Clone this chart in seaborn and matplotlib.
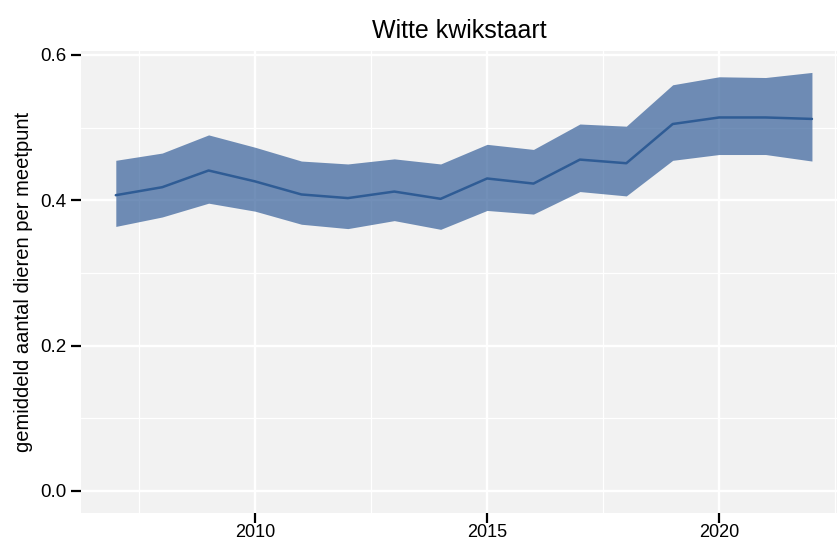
import numpy as np
import pandas as pd
import seaborn as sns
import matplotlib.pyplot as plt
from matplotlib.ticker import MultipleLocator

# yearly mean count per point with confidence band
jaren = [2007, 2008, 2009, 2010, 2011, 2012, 2013, 2014,
         2015, 2016, 2017, 2018, 2019, 2020, 2021, 2022]
gemiddeld = [0.407, 0.418, 0.441, 0.426, 0.408, 0.403, 0.412, 0.402,
             0.430, 0.423, 0.456, 0.451, 0.505, 0.514, 0.514, 0.512]
onder = [0.364, 0.377, 0.396, 0.385, 0.367, 0.361, 0.372, 0.360,
         0.386, 0.381, 0.412, 0.406, 0.455, 0.463, 0.463, 0.454]
boven = [0.455, 0.465, 0.490, 0.473, 0.454, 0.450, 0.457, 0.450,
         0.477, 0.470, 0.505, 0.502, 0.559, 0.570, 0.569, 0.576]

df = pd.DataFrame({"jaar": jaren, "gemiddeld": gemiddeld, "onder": onder, "boven": boven})

sns.set_theme(style="darkgrid", rc={
    "axes.facecolor": "#F2F2F2",
    "grid.color": "white",
    "axes.edgecolor": "white",
    "axes.linewidth": 0,
})
plt.rcParams['font.family'] = ['Liberation Sans', 'DejaVu Sans']

fig = plt.figure(figsize=(8.38, 5.43), dpi=100)
ax = fig.add_axes([81 / 838, 1 - 513 / 543, 756 / 838, 462 / 543])

ax.fill_between(df["jaar"], df["onder"], df["boven"], color="#36609A", alpha=0.7, linewidth=0, zorder=2)
sns.lineplot(data=df, x="jaar", y="gemiddeld", ax=ax, color="#2F5C95", linewidth=1.8, zorder=3)

ax.set_xlim(2006.25, 2022.54)
ax.set_ylim(-0.0305, 0.6055)
ax.xaxis.set_major_locator(MultipleLocator(5))
ax.xaxis.set_minor_locator(MultipleLocator(2.5))
ax.yaxis.set_major_locator(MultipleLocator(0.2))
ax.yaxis.set_minor_locator(MultipleLocator(0.1))
ax.yaxis.set_major_formatter(plt.FormatStrFormatter('%.1f'))
ax.grid(which="major", color="white", linewidth=1.7)
ax.grid(which="minor", color="white", linewidth=0.9)
ax.tick_params(which="major", length=7.5, width=1.6, color="black", pad=3, labelsize=13.5, labelcolor="black",
               bottom=True, left=True)
ax.tick_params(axis="x", which="major", pad=0.5, labelsize=13)
ax.tick_params(which="minor", length=0)
for s in ax.spines.values():
    s.set_visible(False)

ax.set_xlabel("")
ax.set_ylabel("gemiddeld aantal dieren per meetpunt", fontsize=14.5, color="black", labelpad=5)
ax.set_title("Witte kwikstaart", fontsize=18, color="black", pad=9)

fig.savefig("out.png", dpi=100)
